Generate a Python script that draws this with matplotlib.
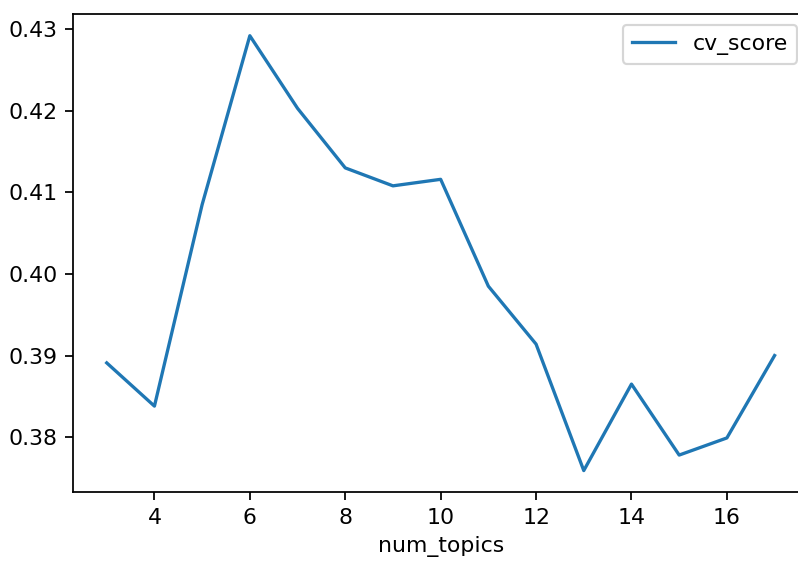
import matplotlib
matplotlib.use("Agg")
import matplotlib.pyplot as plt

num_topics = [3, 4, 5, 6, 7, 8, 9, 10, 11, 12, 13, 14, 15, 16, 17]
cv_score = [0.3891, 0.3838, 0.4085, 0.4292, 0.4203, 0.4130, 0.4108, 0.4116,
            0.3985, 0.3914, 0.3759, 0.3865, 0.3778, 0.3799, 0.3900]

dpi = 158
fig = plt.figure(figsize=(798 / dpi, 564 / dpi), dpi=dpi)
ax = fig.add_axes([0.0919, 0.1271, 1.0125 - 0.0919, 0.9752 - 0.1271])
ax.plot(num_topics, cv_score, color="#1f77b4", linewidth=1.5, label="cv_score")
ax.set_xlabel("num_topics")
ax.legend(loc="upper right")
fig.savefig("out.png", dpi=dpi)
